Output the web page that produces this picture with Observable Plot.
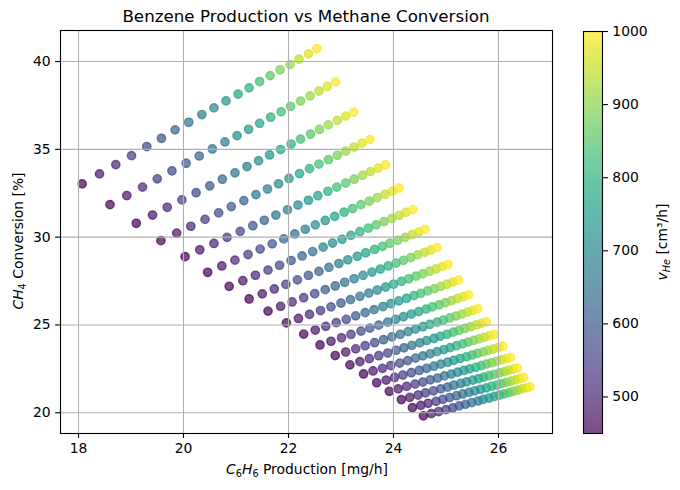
<!DOCTYPE html>
<html><head><meta charset="utf-8">
<script src="https://cdn.jsdelivr.net/npm/d3@7"></script>
<script src="https://cdn.jsdelivr.net/npm/@observablehq/plot@0.6"></script>
<style>
body{margin:0;background:#fff;}
#wrap{position:relative;width:680px;height:490px;}
#wrap svg{position:absolute;left:0;top:0;}
</style>
</head><body><div id="wrap"></div>
<script>
// Helium flow (colour) for the 20 points of each series
const vHe = [450, 479, 508, 537, 566, 595, 624, 653, 682, 711, 739, 768, 797, 826, 855, 884, 913, 942, 971, 1000];

// Benzene production [mg/h], one row per series
const production = [
 [18.07, 18.40, 18.71, 19.01, 19.30, 19.58, 19.84, 20.10, 20.35, 20.58, 20.81, 21.04, 21.25, 21.45, 21.65, 21.84, 22.03, 22.20, 22.38, 22.54],
 [18.60, 18.92, 19.22, 19.50, 19.78, 20.05, 20.30, 20.55, 20.79, 21.02, 21.24, 21.45, 21.66, 21.86, 22.04, 22.23, 22.41, 22.58, 22.74, 22.90],
 [19.10, 19.41, 19.69, 19.97, 20.24, 20.50, 20.74, 20.98, 21.21, 21.43, 21.64, 21.85, 22.05, 22.23, 22.42, 22.59, 22.76, 22.93, 23.09, 23.24],
 [19.57, 19.87, 20.14, 20.41, 20.67, 20.91, 21.15, 21.38, 21.60, 21.81, 22.01, 22.21, 22.40, 22.58, 22.76, 22.93, 23.09, 23.25, 23.40, 23.55],
 [20.03, 20.31, 20.58, 20.83, 21.08, 21.32, 21.54, 21.76, 21.98, 22.18, 22.38, 22.56, 22.75, 22.92, 23.09, 23.25, 23.41, 23.56, 23.71, 23.85],
 [20.46, 20.73, 20.98, 21.23, 21.46, 21.69, 21.91, 22.12, 22.32, 22.51, 22.70, 22.88, 23.06, 23.22, 23.38, 23.54, 23.69, 23.84, 23.98, 24.11],
 [20.87, 21.13, 21.37, 21.61, 21.83, 22.05, 22.26, 22.46, 22.66, 22.84, 23.02, 23.19, 23.36, 23.52, 23.67, 23.82, 23.97, 24.11, 24.24, 24.37],
 [21.25, 21.50, 21.73, 21.95, 22.17, 22.38, 22.58, 22.77, 22.96, 23.13, 23.31, 23.47, 23.64, 23.79, 23.93, 24.08, 24.22, 24.35, 24.48, 24.60],
 [21.61, 21.85, 22.07, 22.29, 22.50, 22.70, 22.89, 23.07, 23.25, 23.42, 23.59, 23.75, 23.90, 24.05, 24.19, 24.33, 24.46, 24.59, 24.71, 24.83],
 [21.96, 22.19, 22.40, 22.61, 22.81, 23.00, 23.18, 23.36, 23.53, 23.69, 23.85, 24.00, 24.15, 24.29, 24.43, 24.56, 24.69, 24.81, 24.93, 25.04],
 [22.29, 22.51, 22.71, 22.91, 23.10, 23.28, 23.46, 23.63, 23.80, 23.95, 24.10, 24.25, 24.39, 24.52, 24.65, 24.78, 24.90, 25.02, 25.13, 25.24],
 [22.60, 22.81, 23.01, 23.19, 23.38, 23.55, 23.72, 23.89, 24.04, 24.19, 24.34, 24.48, 24.62, 24.74, 24.87, 24.99, 25.11, 25.22, 25.33, 25.43],
 [22.89, 23.09, 23.28, 23.46, 23.64, 23.81, 23.97, 24.13, 24.28, 24.42, 24.56, 24.69, 24.83, 24.95, 25.07, 25.19, 25.30, 25.41, 25.51, 25.61],
 [23.17, 23.36, 23.54, 23.72, 23.89, 24.05, 24.20, 24.35, 24.50, 24.63, 24.77, 24.89, 25.02, 25.14, 25.25, 25.36, 25.47, 25.58, 25.67, 25.77],
 [23.43, 23.61, 23.79, 23.95, 24.12, 24.27, 24.42, 24.56, 24.70, 24.83, 24.96, 25.08, 25.20, 25.32, 25.42, 25.53, 25.63, 25.73, 25.83, 25.92],
 [23.68, 23.86, 24.02, 24.18, 24.34, 24.49, 24.63, 24.77, 24.90, 25.03, 25.15, 25.27, 25.39, 25.50, 25.60, 25.71, 25.80, 25.90, 25.99, 26.08],
 [23.92, 24.09, 24.25, 24.41, 24.56, 24.70, 24.84, 24.97, 25.10, 25.22, 25.34, 25.45, 25.57, 25.67, 25.77, 25.87, 25.96, 26.06, 26.15, 26.23],
 [24.15, 24.31, 24.47, 24.61, 24.76, 24.90, 25.03, 25.15, 25.28, 25.39, 25.51, 25.62, 25.72, 25.82, 25.92, 26.02, 26.11, 26.19, 26.28, 26.36],
 [24.36, 24.52, 24.66, 24.81, 24.94, 25.07, 25.20, 25.32, 25.44, 25.55, 25.66, 25.77, 25.87, 25.97, 26.06, 26.15, 26.24, 26.32, 26.40, 26.48],
 [24.57, 24.72, 24.86, 25.00, 25.13, 25.25, 25.37, 25.49, 25.61, 25.71, 25.82, 25.92, 26.02, 26.11, 26.20, 26.28, 26.37, 26.45, 26.53, 26.60]
];

// CH4 conversion [%], one row per series
const conversion = [
 [33.03, 33.60, 34.13, 34.64, 35.16, 35.63, 36.11, 36.54, 36.98, 37.36, 37.76, 38.14, 38.50, 38.86, 39.20, 39.53, 39.83, 40.13, 40.44, 40.74],
 [31.85, 32.37, 32.85, 33.32, 33.77, 34.21, 34.62, 35.02, 35.42, 35.78, 36.14, 36.48, 36.83, 37.14, 37.45, 37.75, 38.04, 38.32, 38.58, 38.84],
 [30.79, 31.26, 31.70, 32.12, 32.53, 32.92, 33.30, 33.66, 34.02, 34.35, 34.68, 34.99, 35.30, 35.58, 35.86, 36.13, 36.39, 36.65, 36.89, 37.12],
 [29.80, 30.23, 30.62, 31.01, 31.38, 31.74, 32.08, 32.42, 32.74, 33.04, 33.34, 33.62, 33.90, 34.16, 34.41, 34.66, 34.90, 35.13, 35.35, 35.56],
 [28.89, 29.28, 29.64, 29.99, 30.33, 30.65, 30.96, 31.26, 31.56, 31.83, 32.10, 32.36, 32.61, 32.85, 33.08, 33.30, 33.52, 33.73, 33.93, 34.12],
 [28.00, 28.36, 28.69, 29.01, 29.32, 29.62, 29.90, 30.18, 30.45, 30.70, 30.95, 31.18, 31.42, 31.63, 31.85, 32.05, 32.25, 32.44, 32.62, 32.80],
 [27.20, 27.52, 27.83, 28.12, 28.40, 28.67, 28.93, 29.18, 29.43, 29.66, 29.88, 30.10, 30.31, 30.51, 30.70, 30.89, 31.07, 31.24, 31.41, 31.57],
 [26.48, 26.77, 27.05, 27.31, 27.57, 27.82, 28.05, 28.28, 28.50, 28.71, 28.91, 29.11, 29.30, 29.48, 29.65, 29.82, 29.99, 30.14, 30.29, 30.44],
 [25.79, 26.06, 26.31, 26.55, 26.78, 27.01, 27.22, 27.43, 27.63, 27.82, 28.01, 28.18, 28.36, 28.52, 28.68, 28.84, 28.99, 29.13, 29.27, 29.40],
 [25.12, 25.37, 25.60, 25.82, 26.03, 26.24, 26.44, 26.63, 26.81, 26.99, 27.16, 27.32, 27.48, 27.63, 27.78, 27.92, 28.06, 28.19, 28.32, 28.44],
 [24.48, 24.71, 24.92, 25.13, 25.32, 25.52, 25.70, 25.87, 26.05, 26.21, 26.37, 26.52, 26.67, 26.80, 26.94, 27.07, 27.20, 27.32, 27.44, 27.55],
 [23.86, 24.07, 24.27, 24.46, 24.65, 24.82, 24.99, 25.16, 25.32, 25.47, 25.62, 25.76, 25.90, 26.03, 26.15, 26.27, 26.39, 26.51, 26.61, 26.72],
 [23.26, 23.46, 23.64, 23.82, 23.99, 24.16, 24.32, 24.47, 24.62, 24.76, 24.90, 25.03, 25.16, 25.28, 25.40, 25.51, 25.62, 25.73, 25.83, 25.93],
 [22.73, 22.91, 23.08, 23.25, 23.40, 23.56, 23.70, 23.84, 23.98, 24.11, 24.23, 24.35, 24.47, 24.59, 24.69, 24.80, 24.90, 25.00, 25.09, 25.18],
 [22.21, 22.38, 22.53, 22.69, 22.83, 22.97, 23.11, 23.24, 23.36, 23.48, 23.60, 23.71, 23.82, 23.92, 24.02, 24.12, 24.21, 24.30, 24.39, 24.47],
 [21.71, 21.86, 22.01, 22.15, 22.28, 22.41, 22.53, 22.65, 22.77, 22.88, 22.99, 23.09, 23.19, 23.29, 23.38, 23.47, 23.55, 23.63, 23.71, 23.79],
 [21.22, 21.36, 21.50, 21.63, 21.75, 21.87, 21.98, 22.10, 22.20, 22.31, 22.41, 22.50, 22.59, 22.68, 22.77, 22.85, 22.93, 23.01, 23.08, 23.15],
 [20.75, 20.88, 21.01, 21.13, 21.25, 21.36, 21.46, 21.57, 21.67, 21.76, 21.86, 21.94, 22.03, 22.11, 22.19, 22.27, 22.34, 22.42, 22.48, 22.55],
 [20.29, 20.42, 20.54, 20.65, 20.76, 20.87, 20.97, 21.07, 21.16, 21.25, 21.34, 21.42, 21.51, 21.58, 21.66, 21.73, 21.80, 21.87, 21.94, 22.00],
 [19.83, 19.95, 20.07, 20.18, 20.28, 20.39, 20.48, 20.58, 20.67, 20.76, 20.84, 20.93, 21.01, 21.08, 21.15, 21.22, 21.29, 21.36, 21.42, 21.48]
];

const xTicks = [18, 20, 22, 24, 26];
const yTicks = [20, 25, 30, 35, 40];
const cbTicks = [500, 600, 700, 800, 900, 1000];
const vDomain = [450, 1000];

const font = "DejaVu Sans";
const points = [];
production.forEach((row, i) => row.forEach((p, j) => points.push({p, c: conversion[i][j], v: vHe[j]})));

const W = 680, H = 490;
const main = Plot.plot({
  width: W, height: H,
  marginLeft: 60, marginRight: 128, marginTop: 30, marginBottom: 57,
  style: {fontFamily: font, fontSize: "13.9px", background: "white", color: "black"},
  x: {domain: [17.657, 27.029], label: null},
  y: {domain: [18.82, 41.766], label: null},
  color: {type: "linear", scheme: "viridis", domain: vDomain},
  marks: [
    Plot.dot(points, {x: "p", y: "c", fill: "v", stroke: "v", r: 4.17, strokeWidth: 1.39, fillOpacity: 0.7, strokeOpacity: 0.7}),
    Plot.gridX(xTicks, {stroke: "#b0b0b0", strokeOpacity: 1, strokeWidth: 1.1}),
    Plot.gridY(yTicks, {stroke: "#b0b0b0", strokeOpacity: 1, strokeWidth: 1.1}),
    Plot.frame({stroke: "black", strokeWidth: 1.1}),
    Plot.axisX(xTicks, {tickSize: 4.9, tickPadding: 4.5, strokeWidth: 1.1, label: null, fill: "black", tickFormat: d => String(d)}),
    Plot.axisY(yTicks, {tickSize: 4.9, tickPadding: 4.9, strokeWidth: 1.1, label: null, fill: "black", tickFormat: d => String(d)})
  ]
});

// colour bar bands (opaque equivalent of viridis at alpha 0.7 over white)
const bands = d3.range(vDomain[0], vDomain[1], 1);
const blend = v => d3.rgb(d3.interpolateRgb("#ffffff", d3.interpolateViridis((v - vDomain[0]) / (vDomain[1] - vDomain[0])))(0.7)).formatHex();
const cbar = Plot.plot({
  width: W, height: H,
  marginLeft: 583, marginRight: 78, marginTop: 31, marginBottom: 57,
  style: {fontFamily: font, fontSize: "13.9px", background: "transparent", color: "black"},
  x: {domain: [0, 1], axis: null},
  y: {domain: vDomain, label: null},
  marks: [
    Plot.rect(bands, {x1: 0, x2: 1, y1: d => d, y2: d => Math.min(d + 2, vDomain[1]), fill: d => blend(d + 0.5)}),
    Plot.frame({stroke: "black", strokeWidth: 1.1}),
    Plot.axisY(cbTicks, {anchor: "right", tickSize: 4.9, tickPadding: 4.9, strokeWidth: 1.1, label: null, fill: "black", tickFormat: d => String(d)})
  ]
});

const wrap = document.getElementById("wrap");
wrap.appendChild(main);
wrap.appendChild(cbar);

function richText(sel, x, y, rot, parts, size) {
  const t = sel.append("text")
    .attr("transform", `translate(${x},${y}) rotate(${rot})`)
    .attr("text-anchor", "middle")
    .attr("font-family", font)
    .attr("font-size", size)
    .attr("fill", "black")
    .style("white-space", "pre");
  let shifted = 0;
  parts.forEach(pt => {
    const s = t.append("tspan").text(pt.t);
    if (pt.it) s.attr("font-style", "italic");
    const target = pt.sub ? size * 0.24 : 0;
    if (target !== shifted) { s.attr("dy", target - shifted); shifted = target; }
    if (pt.sub) s.attr("font-size", size * 0.7);
  });
  return t;
}

const svg = d3.select(main);
svg.append("text")
  .attr("x", 306).attr("y", 21.7)
  .attr("text-anchor", "middle")
  .attr("font-family", font).attr("font-size", 16.7).attr("fill", "black")
  .text("Benzene Production vs Methane Conversion");

richText(svg, 307, 474, 0, [
  {t: "C", it: true}, {t: "6", sub: true}, {t: "H", it: true}, {t: "6", sub: true}, {t: " Production [mg/h]"}
], 13.9);

richText(svg, 22.5, 241, -90, [
  {t: "C", it: true}, {t: "H", it: true}, {t: "4", sub: true}, {t: " Conversion [%]"}
], 13.9);

richText(d3.select(cbar), 667, 242, -90, [
  {t: "v", it: true}, {t: "He", it: true, sub: true}, {t: " [cm³/h]"}
], 13.9);
</script>
</body></html>
